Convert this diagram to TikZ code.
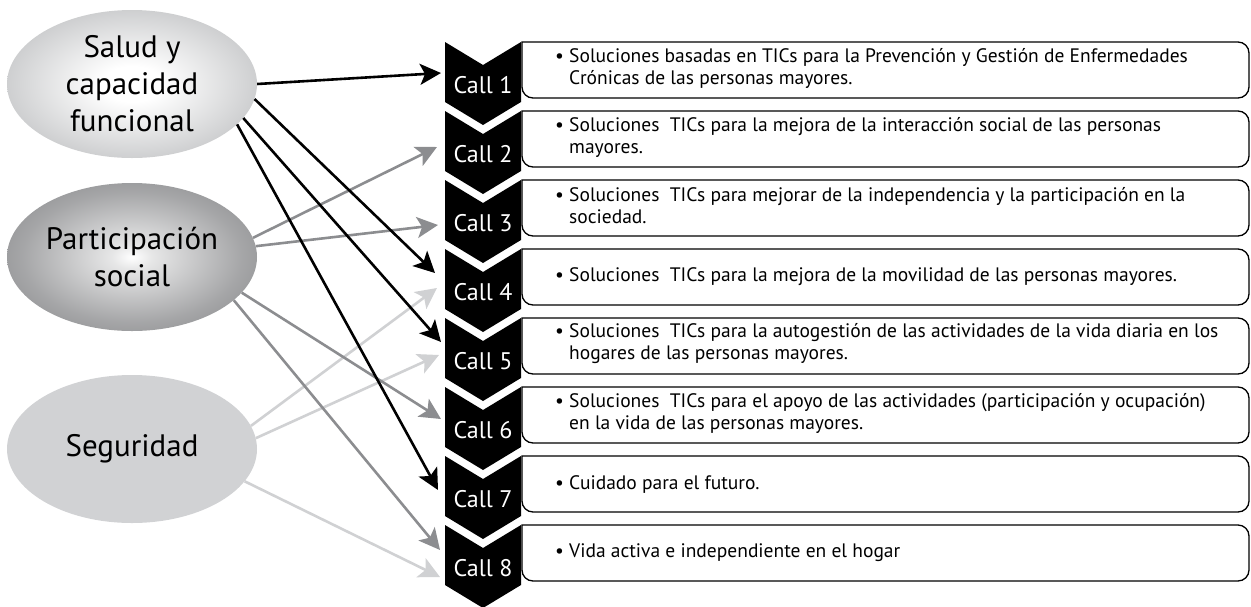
\documentclass[tikz,border=0pt]{standalone}
\usepackage{fontspec}
\setmainfont{PT Sans}
\usetikzlibrary{shapes.geometric,arrows.meta}

\definecolor{salEdge}{HTML}{989A9D}
\definecolor{parEdge}{HTML}{5C5D60}
\definecolor{segFill}{HTML}{D1D2D4}
\definecolor{midGray}{HTML}{8C8D90}
\definecolor{softGray}{HTML}{D0D1D3}

\pgfdeclareradialshading{SaludShade}{\pgfpoint{0bp}{0bp}}{color(0bp)=(white); color(6bp)=(white); color(28bp)=(salEdge!55!white); color(50bp)=(salEdge); color(100bp)=(salEdge)}
\pgfdeclareradialshading{ParShade}{\pgfpoint{0bp}{0bp}}{color(0bp)=(white); color(4bp)=(white!85!parEdge); color(22bp)=(parEdge!55!white); color(50bp)=(parEdge); color(100bp)=(parEdge)}

\begin{document}
\begin{tikzpicture}[x=1pt,y=-1pt]
    \tikzset{
      BallStyle/.style = { shape = ellipse, minimum width = 250pt, minimum height = 148pt,
                 inner sep = 0pt, align = center, font = \fontsize{31}{37}\selectfont },
      CallStyle/.style = { text = white, font = \fontsize{24}{28}\selectfont },
      TextStyle/.style = { anchor = west, inner sep = 0pt, align = left,
                 font = \fontsize{19.5}{22}\selectfont },
      BoxStyle/.style = { line width = 1.3pt },
      EdgeStyle/.style = { line width = 2.6pt, -{Stealth[length=21pt,width=21pt,inset=5pt]} } }
      \useasboundingbox (0,0) rectangle (1251,606);
      \clip (0,0) rectangle (1251,606);

      \node[BallStyle, shading = SaludShade] (sal) at (132,84) {Salud y\\capacidad\\funcional};
      \node[BallStyle, shading = ParShade] (par) at (132,257) {Participación\\social};
      \node[BallStyle, fill = segFill] (seg) at (132,449) {Seguridad};

      % chevrons with the call labels
      \foreach \i in {1,...,8}{
        \pgfmathsetmacro{\top}{42+69*(\i-1)}
        \fill[black] (445,\top) -- (483,\top+23) -- (521,\top) -- (521,\top+60)
             -- (483,\top+83) -- (445,\top+60) -- cycle;
        \node[CallStyle] (call\i) at (483,\top+43) {Call \i};
        \draw[BoxStyle] (522,\top) [rounded corners=11pt] -- (1249,\top) -- (1249,\top+56)
             -- (522,\top+56) [sharp corners] -- cycle;
      }

      \node[TextStyle] (box1) at (555,68) {\textbullet\ Soluciones basadas en TICs para la Prevención y Gestión de Enfermedades\\\hphantom{\textbullet\ }Crónicas de las personas mayores.};
      \node[TextStyle] (box2) at (555,137) {\textbullet\ Soluciones~ TICs para la mejora de la interacción social de las personas\\\hphantom{\textbullet\ }mayores.};
      \node[TextStyle] (box3) at (555,206) {\textbullet\ Soluciones~ TICs para mejorar de la independencia y la participación en la\\\hphantom{\textbullet\ }sociedad.};
      \node[TextStyle] (box4) at (555,277) {\textbullet\ Soluciones~ TICs para la mejora de la movilidad de las personas mayores.};
      \node[TextStyle] (box5) at (555,344) {\textbullet\ Soluciones~ TICs para la autogestión de las actividades de la vida diaria en los\\\hphantom{\textbullet\ }hogares de las personas mayores.};
      \node[TextStyle] (box6) at (555,413) {\textbullet\ Soluciones~ TICs para el apoyo de las actividades (participación y ocupación)\\\hphantom{\textbullet\ }en la vida de las personas mayores.};
      \node[TextStyle] (box7) at (555,484) {\textbullet\ Cuidado para el futuro.};
      \node[TextStyle] (box8) at (555,553) {\textbullet\ Vida activa e independiente en el hogar};

      % where the arrows end
      \coordinate (in1) at (441,73);
      \coordinate (in2) at (437,147);
      \coordinate (in3) at (438,225);
      \coordinate (in4a) at (435,273);
      \coordinate (in4b) at (437,288);
      \coordinate (in5a) at (441,342);
      \coordinate (in5b) at (439,355);
      \coordinate (in6) at (441,419);
      \coordinate (in7) at (438,490);
      \coordinate (in8a) at (440,550);
      \coordinate (in8b) at (440,577);

      \tikzset{
      EdgeStyle/.append style = {softGray} }
      \draw[EdgeStyle] (seg.11) -- (in4b);
      \draw[EdgeStyle] (seg.5) -- (in5b);
      \draw[EdgeStyle] (seg.-16) -- (in8b);

      \tikzset{
      EdgeStyle/.append style = {midGray} }
      \draw[EdgeStyle] (par.9) -- (in2);
      \draw[EdgeStyle] (par.5) -- (in3);
      \draw[EdgeStyle] (par.-18) -- (in6);
      \draw[EdgeStyle] (par.-23) -- (in8a);

      \tikzset{
      EdgeStyle/.append style = {black} }
      \draw[EdgeStyle] (sal.0) -- (in1);
      \draw[EdgeStyle] (sal.-7) -- (in4a);
      \draw[EdgeStyle] (sal.-17) -- (in5a);
      \draw[EdgeStyle] (sal.-21) -- (in7);
    \end{tikzpicture}
\end{document}
